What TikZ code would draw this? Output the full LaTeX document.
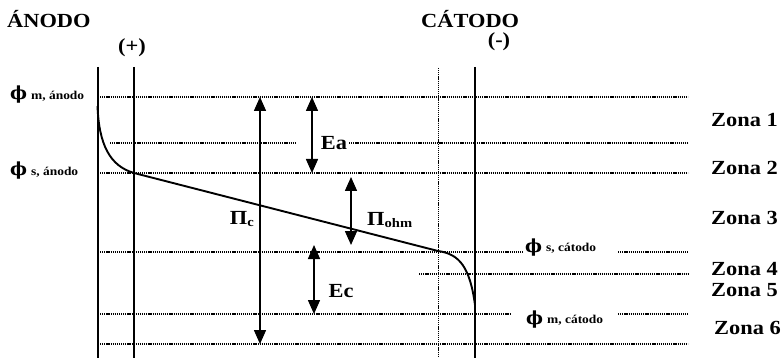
\documentclass[tikz,border=0pt]{standalone}
\usepackage{graphicx}
\usepackage{fontspec}
\setmainfont{Liberation Serif}
\newfontfamily\phifont{DejaVu Serif}
\usetikzlibrary{arrows.meta}
\newcommand{\wide}[1]{\scalebox{1.12}[1]{#1}}
\newcommand{\philabel}[1]{{\fontsize{18}{18}\selectfont\phifont\bfseries ϕ}\hspace{4pt}\raisebox{0.1ex}{\wide{\fontsize{12}{12}\selectfont\bfseries #1}}}
\begin{document}
\begin{tikzpicture}[x=1pt,y=-1pt,
  dotline/.style={line width=1.1pt, dash pattern=on 1.2pt off 0.9pt},
  dotv/.style={line width=1pt, dash pattern=on 1.2pt off 0.9pt},
  dbl/.style={line width=1.5pt, {Triangle[width=12pt,length=14pt]}-{Triangle[width=12pt,length=14pt]}},
  big/.style={font=\fontsize{20}{22}\selectfont\bfseries, inner sep=0pt},
  zona/.style={font=\fontsize{20}{22}\selectfont\bfseries, anchor=base west, inner sep=0pt},
  philab/.style={anchor=base west, inner sep=0pt},
  curve/.style={line width=1.9pt}
]
\useasboundingbox (0,0) rectangle (784,358);
% vertical lines
\coordinate (LA) at (97.5,67); \coordinate (LB) at (97.5,358);
\coordinate (PA) at (134,67); \coordinate (PB) at (134,358);
\coordinate (DA) at (438,68); \coordinate (DB) at (438,358);
\coordinate (RA) at (475,67); \coordinate (RB) at (475,358);
\draw[line width=2pt] (LA) -- (LB);
\draw[line width=1.3pt] (PA) -- (PB);
\draw[dotv] (DA) -- (DB);
\draw[line width=1.6pt] (RA) -- (RB);
% horizontal dotted lines
\draw[dotline] (100,97) -- (688,97);
\draw[dotline] (110,143) -- (295,143);
\draw[dotline] (349,143) -- (688,143);
\draw[dotline] (100,173) -- (688,173);
\draw[dotline] (100,252) -- (524,252);
\draw[dotline] (618,252) -- (688,252);
\draw[dotline] (419,274) -- (688,274);
\draw[dotline] (100,314) -- (511,314);
\draw[dotline] (618,314) -- (688,314);
\draw[dotline] (100,344) -- (688,344);
% potential curve
\draw[curve] (97.5,106) .. controls (99,145) and (110,166) .. (134,173)
  -- (438,251) .. controls (460,254) and (470,268) .. (475,305);
% arrows
\coordinate (PcA) at (260,97); \coordinate (PcB) at (260,344);
\coordinate (EaA) at (312,97); \coordinate (EaB) at (312,173);
\coordinate (PoA) at (351,177); \coordinate (PoB) at (351,245);
\coordinate (EcA) at (314,245); \coordinate (EcB) at (314,314);
\draw[dbl] (PcA) -- (PcB);
\draw[dbl] (EaA) -- (EaB);
\draw[dbl] (PoA) -- (PoB);
\draw[dbl] (EcA) -- (EcB);
% labels
\node[big, anchor=base west] (anodo) at (7,28) {\wide{ÁNODO}};
\node[big, anchor=base west] (catodo) at (421,28) {\wide{CÁTODO}};
\node[big] (plus) at (132,48) {\wide{(+)}};
\node[big] (minus) at (499,42) {\wide{(-)}};
\node[big, anchor=east] (pic) at (254,219) {\wide{Π\raisebox{-0.3ex}{\fontsize{13}{13}\selectfont\bfseries c}}};
\node[big] (ea) at (334,143) {\wide{Ea}};
\node[big] (ec) at (341,291) {\wide{Ec}};
\node[big, anchor=west] (pio) at (367,220) {\wide{Π\raisebox{-0.3ex}{\fontsize{13}{13}\selectfont\bfseries ohm}}};
\node[philab] (phima) at (10,100) {\philabel{m, ánodo}};
\node[philab] (phisa) at (10,176) {\philabel{s, ánodo}};
\node[philab] (phisc) at (525,252) {\philabel{s, cátodo}};
\node[philab] (phimc) at (526,324) {\philabel{m, cátodo}};
\node[zona] (z1) at (711,127) {\wide{Zona 1}};
\node[zona] (z2) at (711,175) {\wide{Zona 2}};
\node[zona] (z3) at (711,225) {\wide{Zona 3}};
\node[zona] (z4) at (711,275) {\wide{Zona 4}};
\node[zona] (z5) at (711,296) {\wide{Zona 5}};
\node[zona] (z6) at (714,334) {\wide{Zona 6}};
\end{tikzpicture}
\end{document}
